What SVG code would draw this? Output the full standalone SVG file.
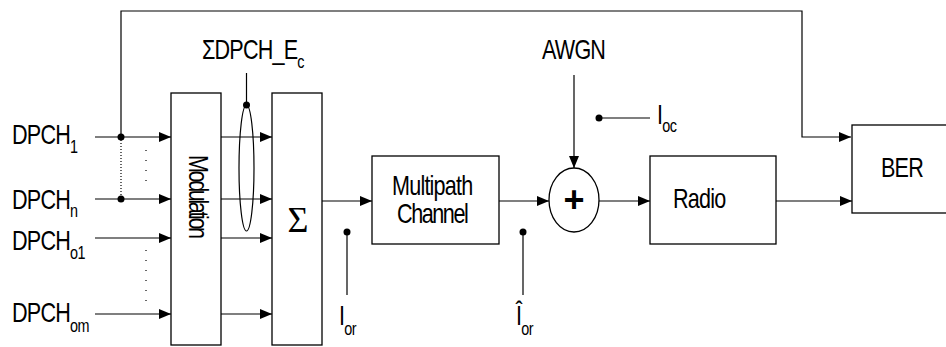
<svg xmlns="http://www.w3.org/2000/svg" width="946" height="347" viewBox="0 0 946 347">
<style>
  .box { fill: #fff; stroke: #000; stroke-width: 1.3; }
  .ln { fill: none; stroke: #000; stroke-width: 1.2; }
  .dot { fill: #000; }
  .t { font-family: "Liberation Sans", Arial, sans-serif; font-size: 27px; letter-spacing: -1px; fill: #000; }
  .sub { font-size: 18px; letter-spacing: -0.5px; }
</style>
<defs>
  <marker id="arr" markerUnits="userSpaceOnUse" markerWidth="12" markerHeight="12" viewBox="0 0 12 12" refX="12" refY="6" orient="auto">
    <path d="M0,1 L12,6 L0,11 Z" fill="#000"/>
  </marker>
</defs>
<rect width="946" height="347" fill="#fff"/>

<g id="connectors">
  <polyline class="ln" points="121,137 121,11 802,11 802,137 851,137" marker-end="url(#arr)"/>
  <line class="ln" x1="121" y1="137" x2="121" y2="199" stroke-dasharray="1 2"/>
  <line class="ln" x1="95" y1="137" x2="171" y2="137" marker-end="url(#arr)"/>
  <line class="ln" x1="95" y1="199" x2="171" y2="199" marker-end="url(#arr)"/>
  <line class="ln" x1="95" y1="238" x2="171" y2="238" marker-end="url(#arr)"/>
  <line class="ln" x1="95" y1="314" x2="171" y2="314" marker-end="url(#arr)"/>
  <line class="ln" x1="146" y1="150" x2="146" y2="182" stroke-dasharray="1 9"/>
  <line class="ln" x1="146" y1="250" x2="146" y2="302" stroke-dasharray="1 9"/>
  <line class="ln" x1="221" y1="137" x2="272" y2="137" marker-end="url(#arr)"/>
  <line class="ln" x1="221" y1="199" x2="272" y2="199" marker-end="url(#arr)"/>
  <line class="ln" x1="221" y1="238" x2="272" y2="238" marker-end="url(#arr)"/>
  <line class="ln" x1="221" y1="314" x2="272" y2="314" marker-end="url(#arr)"/>
  <line class="ln" x1="322" y1="201" x2="372" y2="201" marker-end="url(#arr)"/>
  <line class="ln" x1="499" y1="201" x2="549" y2="201" marker-end="url(#arr)"/>
  <line class="ln" x1="599" y1="201" x2="650" y2="201" marker-end="url(#arr)"/>
  <line class="ln" x1="776" y1="201" x2="852" y2="201" marker-end="url(#arr)"/>
  <line class="ln" x1="574" y1="75" x2="574" y2="168" marker-end="url(#arr)"/>
  <line class="ln" x1="246.5" y1="73" x2="246.5" y2="105"/>
  <line class="ln" x1="347" y1="232" x2="347" y2="295"/>
  <line class="ln" x1="523" y1="232" x2="523" y2="295"/>
  <line class="ln" x1="599" y1="118" x2="650" y2="118"/>
  <ellipse class="ln" cx="246.5" cy="168" rx="7.5" ry="63"/>
  <circle class="dot" cx="121" cy="137" r="3.5"/>
  <circle class="dot" cx="121" cy="199" r="3.5"/>
  <circle class="dot" cx="246.5" cy="105" r="3.5"/>
  <circle class="dot" cx="347" cy="232" r="3.5"/>
  <circle class="dot" cx="523" cy="232" r="3.5"/>
  <circle class="dot" cx="599" cy="118" r="3.5"/>
</g>

<g id="inputs">
  <text class="t" transform="translate(12,144) scale(0.8,1)">DPCH<tspan class="sub" dy="9">1</tspan></text>
  <text class="t" transform="translate(12,209) scale(0.8,1)">DPCH<tspan class="sub" dy="8">n</tspan></text>
  <text class="t" transform="translate(12,250) scale(0.8,1)">DPCH<tspan class="sub" dy="9">o1</tspan></text>
  <text class="t" transform="translate(12,322) scale(0.8,1)">DPCH<tspan class="sub" dy="10">om</tspan></text>
</g>

<g id="modulation">
  <rect class="box" x="171" y="93" width="50" height="252"/>
  <text class="t" transform="translate(189,155) rotate(90) scale(0.8,1)" style="letter-spacing:-3px">Modulation</text>
</g>

<g id="sum">
  <rect class="box" x="272" y="93" width="50" height="252"/>
  <text x="298" y="232" text-anchor="middle" style="font-family:'Liberation Serif','Times New Roman',serif;font-size:36px">Σ</text>
</g>

<g id="sum-label">
  <text class="t" transform="translate(202,59) scale(0.8,1)">ΣDPCH_E<tspan class="sub" dy="9">c</tspan></text>
</g>

<g id="multipath">
  <rect class="box" x="372" y="156" width="127" height="88"/>
  <text class="t" transform="translate(392,195) scale(0.8,1)">Multipath</text>
  <text class="t" transform="translate(397,223) scale(0.8,1)" style="letter-spacing:-1.8px">Channel</text>
</g>

<g id="awgn">
  <text class="t" transform="translate(542,59) scale(0.8,1)">AWGN</text>
</g>

<g id="adder">
  <ellipse class="box" cx="574" cy="200" rx="25" ry="32"/>
  <text x="574" y="212" text-anchor="middle" style="font-family:'Liberation Sans',Arial,sans-serif;font-size:36px;font-weight:bold">+</text>
</g>

<g id="radio">
  <rect class="box" x="650" y="156" width="126" height="88"/>
  <text class="t" transform="translate(673,208) scale(0.8,1)">Radio</text>
</g>

<g id="ber">
  <rect class="box" x="852" y="125" width="110" height="88"/>
  <text class="t" transform="translate(881,177) scale(0.8,1)">BER</text>
</g>

<g id="probe-labels">
  <text class="t" transform="translate(339,325) scale(0.8,1)">I<tspan class="sub" dy="10">or</tspan></text>
  <text class="t" transform="translate(516,325) scale(0.8,1)">Î<tspan class="sub" dy="10">or</tspan></text>
  <text class="t" transform="translate(657,124) scale(0.8,1)">I<tspan class="sub" dy="8">oc</tspan></text>
</g>
</svg>
